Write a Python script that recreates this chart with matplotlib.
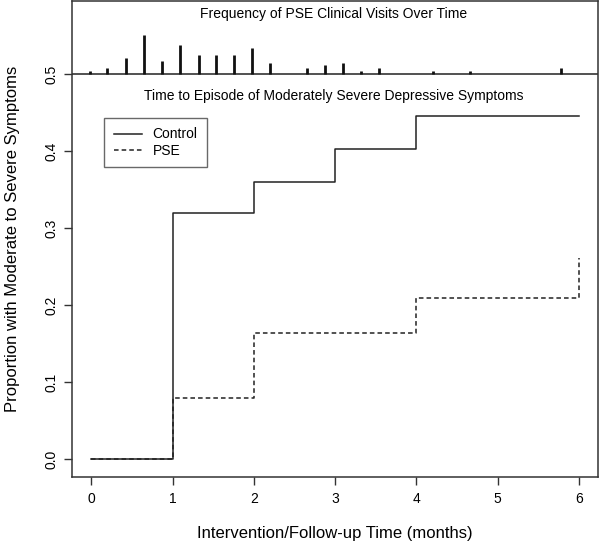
import numpy as np
import matplotlib
matplotlib.use("Agg")
import matplotlib.pyplot as plt

plt.rcParams['font.family'] = ['Liberation Sans', 'DejaVu Sans']

# step curves (months)
times = [0, 1, 2, 3, 4, 5, 6]
control = [0.0, 0.32, 0.36, 0.403, 0.446, 0.446, 0.446]
pse = [0.0, 0.08, 0.164, 0.164, 0.21, 0.21, 0.262]

# clinical visit frequency (weekly, months)
visit_time = [-0.02, 0.196, 0.42, 0.65, 0.866, 1.09, 1.32, 1.534, 1.76, 1.98,
              2.2, 2.653, 2.87, 3.1, 3.32, 3.54, 4.21, 4.66, 5.776]
visit_count = [1, 2, 5, 12, 4, 9, 6, 6, 6, 8, 3.5, 2, 3, 3.5, 1, 2, 1, 1, 2]
bar_scale = 0.0042
base = 0.5

fig = plt.figure(figsize=(6, 5.41), dpi=100)
ax = fig.add_axes([0.12, 0.118, 0.877, 0.880])

ax.step(times, control, where='post', color='#222222', lw=1.1, label='Control')
ax.step(times, pse, where='post', color='#222222', lw=1.1, ls=(0, (3, 2)), label='PSE')

# visit frequency bars on the 0.5 line
ax.axhline(base, color='#222222', lw=1.1)
ax.vlines(visit_time, base, base + np.array(visit_count) * bar_scale,
          color='#111111', lw=2)

ax.text(2.98, 0.578, 'Frequency of PSE Clinical Visits Over Time',
        ha='center', va='center', fontsize=10)
ax.text(2.98, 0.472, 'Time to Episode of Moderately Severe Depressive Symptoms',
        ha='center', va='center', fontsize=10)

ax.set_xlim(-0.24, 6.24)
ax.set_ylim(-0.023, 0.595)
ax.set_xticks(range(7))
ax.set_yticks([0.0, 0.1, 0.2, 0.3, 0.4, 0.5])
ax.set_yticklabels(['0.0', '0.1', '0.2', '0.3', '0.4', '0.5'], rotation=90, va='center')
ax.tick_params(labelsize=10, length=6, width=1, color='#333333')
ax.tick_params(axis='x', pad=5)
for s in ax.spines.values():
    s.set_color('#333333')
    s.set_linewidth(1.1)

ax.set_xlabel('Intervention/Follow-up Time (months)', fontsize=12, labelpad=14)
ax.set_ylabel('Proportion with Moderate to Severe Symptoms', fontsize=12, labelpad=18)

leg = ax.legend(loc='upper left', bbox_to_anchor=(0.061, 0.755), borderaxespad=0,
                fontsize=10, frameon=True, fancybox=False, edgecolor='#444444',
                handlelength=2.0, handletextpad=0.8, borderpad=0.7, labelspacing=0.15)
leg.get_frame().set_linewidth(1)

fig.savefig('out.png', dpi=100)
